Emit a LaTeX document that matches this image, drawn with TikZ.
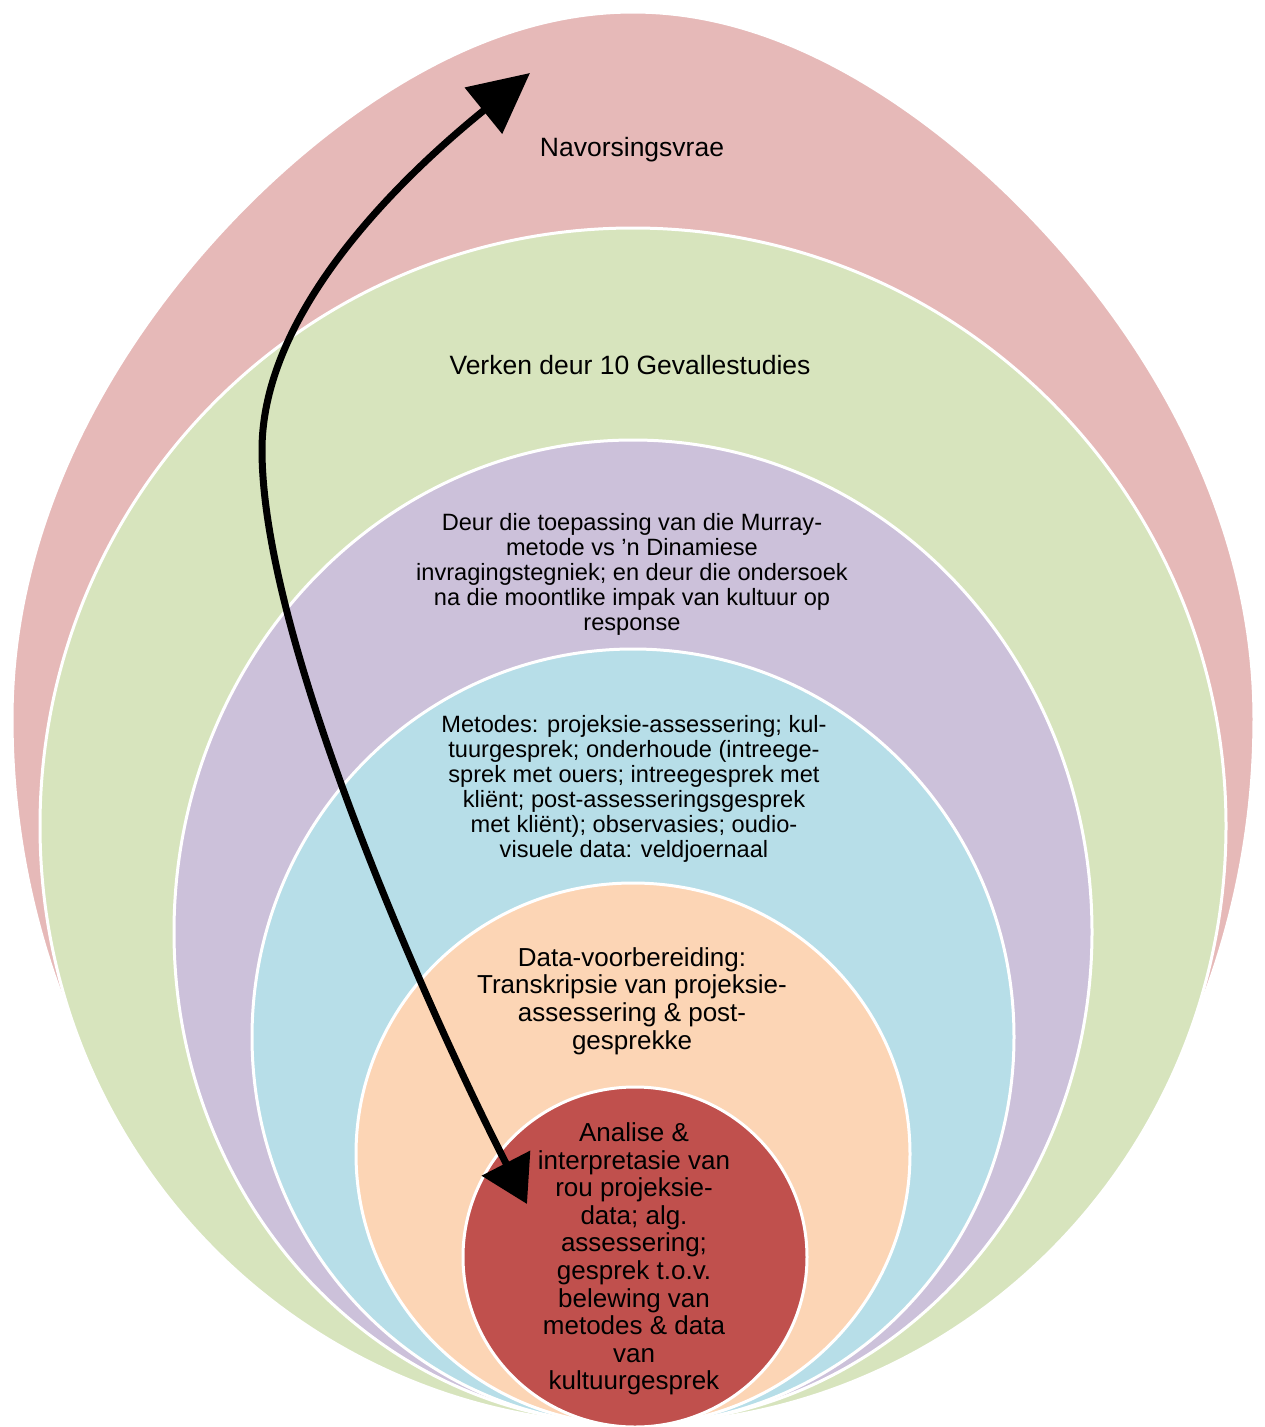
\documentclass[tikz,border=0pt]{standalone}
\usepackage{fontspec}
\setmainfont{Liberation Sans}
\usetikzlibrary{arrows.meta}
\definecolor{cpink}{HTML}{E6B9B8}
\definecolor{cgreen}{HTML}{D7E4BD}
\definecolor{cpurple}{HTML}{CCC1DA}
\definecolor{cblue}{HTML}{B7DEE8}
\definecolor{cpeach}{HTML}{FCD5B5}
\definecolor{cred}{HTML}{C0504D}
\begin{document}
\begin{tikzpicture}[x=1pt,y=-1pt,
  ring/.style={draw=white,line width=3pt},
  lbl/.style={align=center,inner sep=0pt,text=black},
  big/.style={font=\fontsize{26.5}{30}\selectfont},
  mid/.style={font=\fontsize{23.6}{25}\selectfont},
  inner/.style={font=\fontsize{26}{27.6}\selectfont},
  flow/.style={line width=7pt,black,{Triangle[length=46pt,width=53pt]}-{Triangle[length=60pt,width=58pt]}}]
\useasboundingbox (0,0) rectangle (1265,1427);
\fill[white] (0,0) rectangle (1265,1427);
% nested shapes
\filldraw[ring,fill=cpink] plot[domain=0:360,samples=361,variable=\t]
  ({633+621*sin(\t)*(1-0.18*max(cos(\t),0)*max(cos(\t),0))},{719-707*cos(\t)}) -- cycle;
\filldraw[ring,fill=cgreen] (633,826) ellipse [x radius=593pt,y radius=598pt];
\filldraw[ring,fill=cpurple] (633,932) ellipse [x radius=459pt,y radius=492pt];
\filldraw[ring,fill=cblue] (633,1037) ellipse [x radius=381pt,y radius=388pt];
\filldraw[ring,fill=cpeach] (633,1154) ellipse [x radius=277pt,y radius=271pt];
\filldraw[ring,fill=cred] (635,1257) ellipse [x radius=172pt,y radius=170pt];
% labels
\node[lbl,big] (q) at (632,150) {Navorsingsvrae};
\node[lbl,big] (v) at (630,365) {Verken deur 10 Gevallestudies};
\node[lbl,mid] (p) at (632,574) {Deur die toepassing van die Murray-\\metode vs ’n Dinamiese\\invragingstegniek; en deur die ondersoek\\na die moontlike impak van kultuur op\\response};
\node[lbl,mid] (m) at (634,789) {Metodes: projeksie-assessering; kul-\\tuurgesprek; onderhoude (intreege-\\sprek met ouers; intreegesprek met\\kliënt; post-assesseringsgesprek\\met kliënt); observasies; oudio-\\visuele data: veldjoernaal};
\node[lbl,inner] (d) at (632,1001) {Data-voorbereiding:\\Transkripsie van projeksie-\\assessering \& post-\\gesprekke};
\node[lbl,inner] (a) at (634,1259) {Analise \&\\interpretasie van\\rou projeksie-\\data; alg.\\assessering;\\gesprek t.o.v.\\belewing van\\metodes \& data\\van\\kultuurgesprek};
% arrow
\coordinate (ab) at (527,1204);
\coordinate (am) at (262,450);
\coordinate (at) at (530,73);
\draw[flow] (ab) .. controls (445,1045) and (262,650) .. (am) .. controls (262,300) and (425,158) .. (at);
\end{tikzpicture}
\end{document}
